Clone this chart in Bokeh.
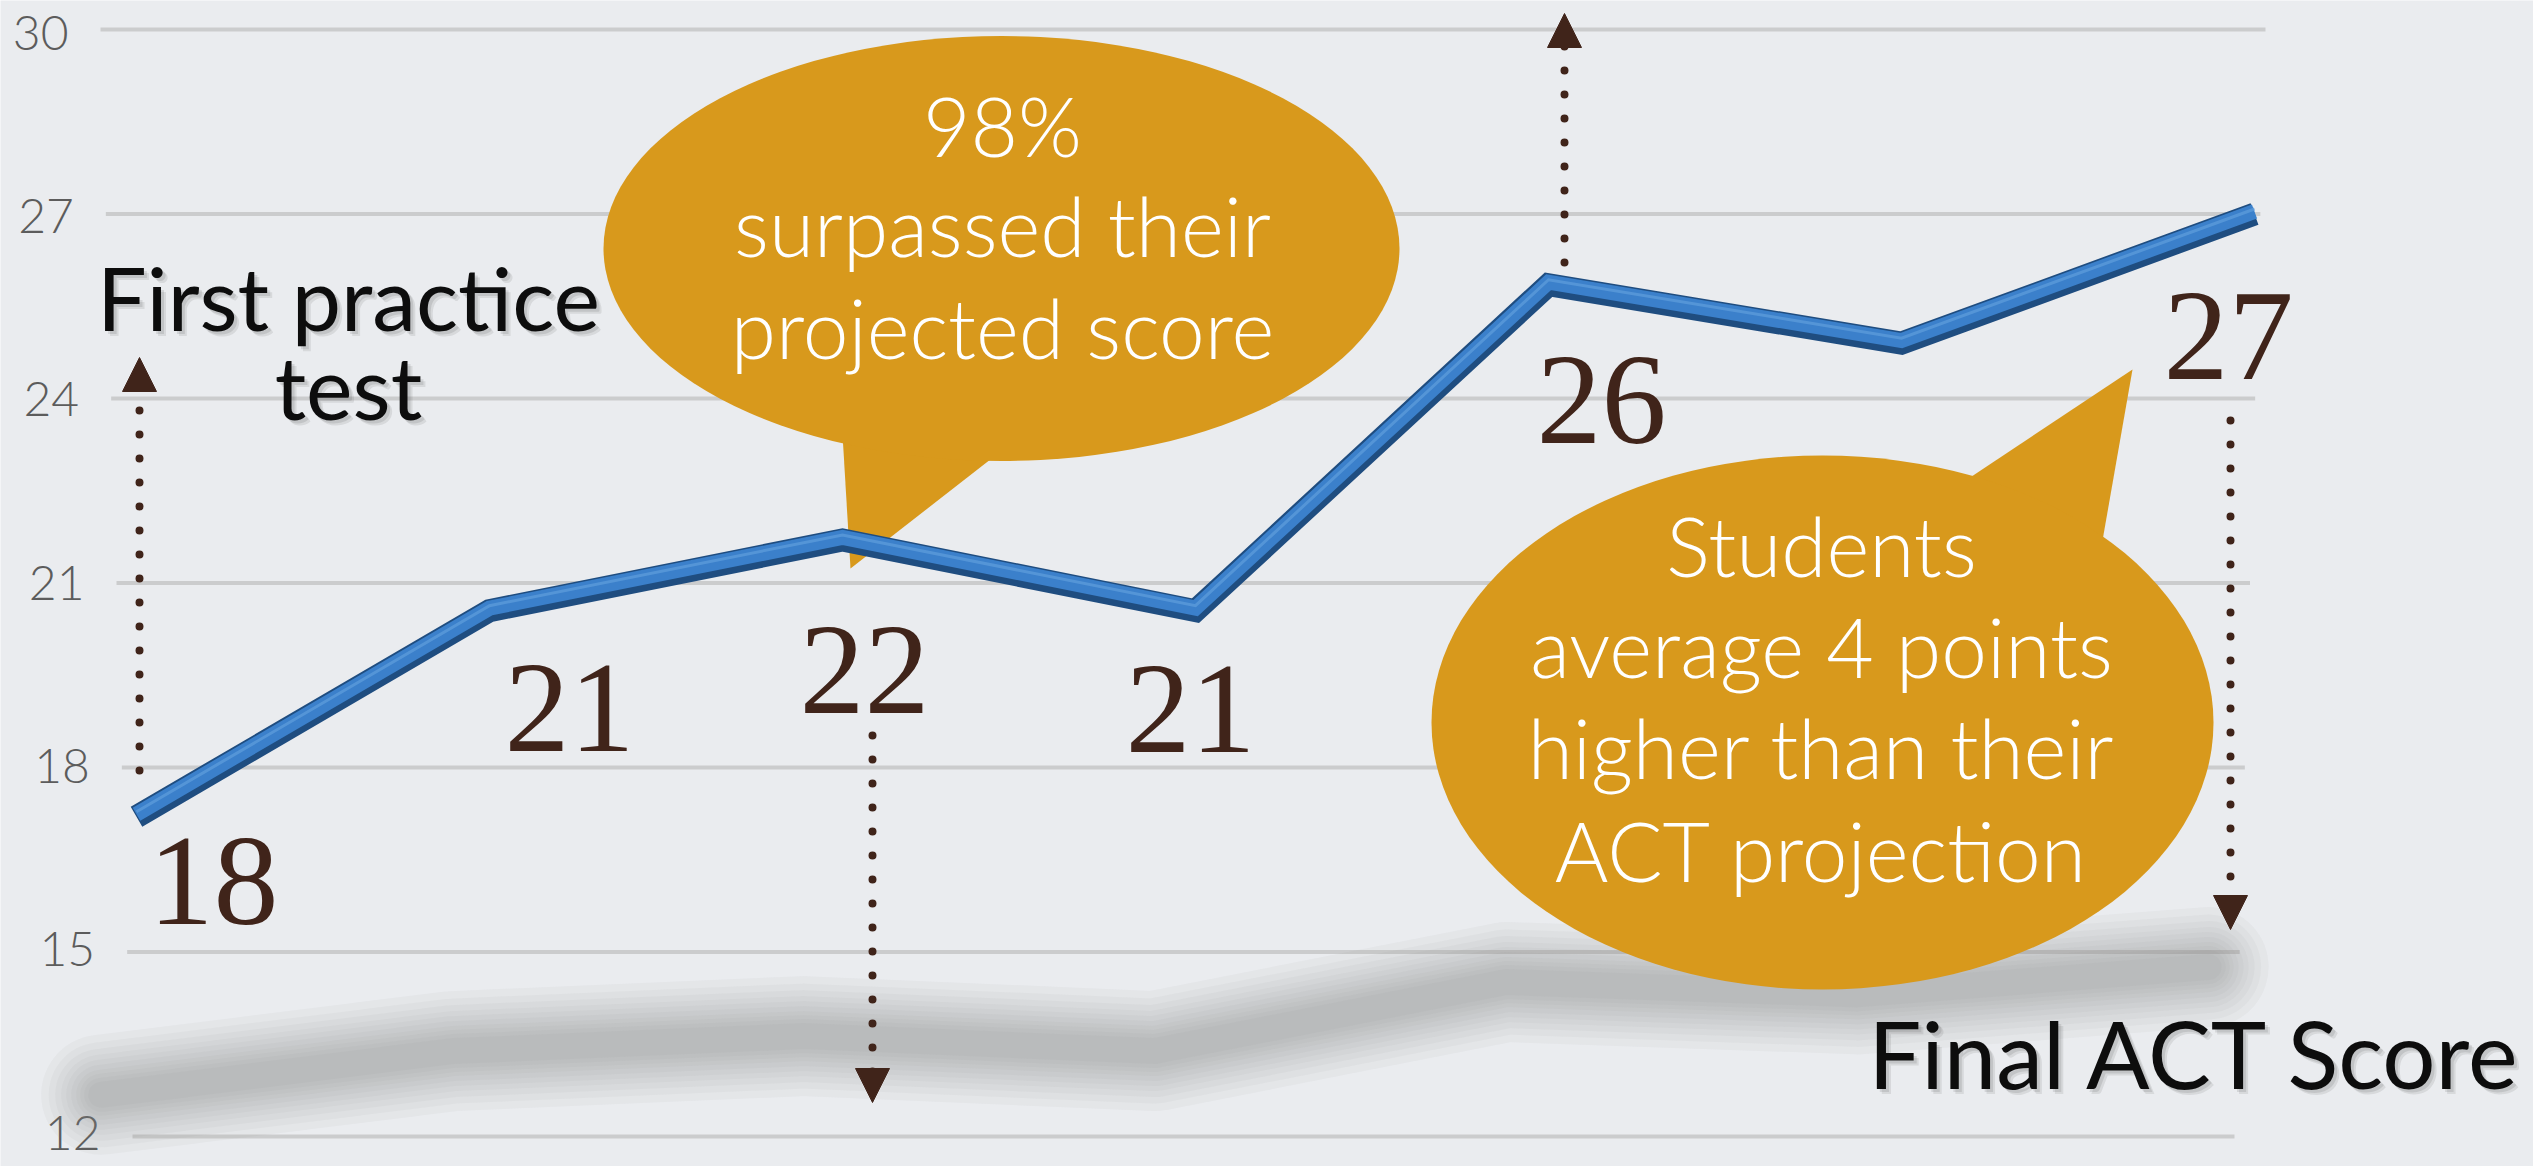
from bokeh.plotting import figure
from bokeh.models import Range1d, ColumnDataSource, Arrow, NormalHead
from bokeh.core.properties import value
from bokeh.embed import file_html
from bokeh.resources import INLINE

# ---------------- data ----------------
steps = [0, 1, 2, 3, 4, 5, 6]
scores_line = [17.2, 20.55, 21.7, 20.55, 25.85, 24.9, 27.0]
label_idx = [0, 1, 2, 3, 4, 6]
label_text = ["18", "21", "22", "21", "26", "27"]
y_ticks = [12, 15, 18, 21, 24, 27, 30]
y_tick_labels = ["12", "15", "18", "21", "24", "27", "30"]
bubble1_lines = ["98%", "surpassed their", "projected score"]
bubble2_lines = ["Students", "average 4 points", "higher than their", "ACT projection"]
first_label = ["First practice", "test"]
final_label = "Final ACT Score"

# ---------------- layout helpers (pixel <-> data) ----------------
W, H = 2533, 1166
X0PX, XS = 136.0, 353.0      # px of step 0, px per step
Y30PX, YS = 29.0, 61.5       # px of score 30, px per score point


def dx(px):
    return (px - X0PX) / XS


def dy(py):
    return 30 - (py - Y30PX) / YS


BG = "#eaecef"
GOLD = "#d8991c"
BROWN = "#40241a"
GRID = "#cbcccd"
LATO_SHIFT = 0.38   # empirical baseline correction (fraction of font size)

p = figure(width=W, height=H, x_range=Range1d(dx(0), dx(W)), y_range=Range1d(dy(H), dy(0)),
           x_axis_location=None, y_axis_location=None, toolbar_location=None,
           output_backend="svg", min_border=0)
p.background_fill_color = BG
p.border_fill_color = BG
p.outline_line_color = None
p.xgrid.visible = False
p.ygrid.visible = False

# ---------------- gridlines & tick labels (slight perspective skew) ----------------
gx0 = [dx(100 + (30 - t) / 18 * 32) for t in y_ticks]
gx1 = [dx(2265 - (30 - t) / 18 * 31) for t in y_ticks]
p.segment(x0=gx0, y0=y_ticks, x1=gx1, y1=y_ticks, line_color=GRID, line_width=4)
tick_src = ColumnDataSource(dict(
    x=[dx(68 + (30 - t) / 18 * 32) for t in y_ticks], y=y_ticks, text=y_tick_labels,
    yo=[3 - (30 - t) / 18 * 7 for t in y_ticks]))
p.text(x="x", y="y", text="text", y_offset="yo", source=tick_src, text_align="right",
       text_baseline="middle", text_font=value("Lato Light"), text_font_size="48px",
       text_color="#5c5c5c")

# ---------------- floor shadow of the line ----------------
shadow_x = [-0.1 + s * 0.995 for s in steps]
shadow_y = [12 + 0.212 * (v - 14.0) for v in scores_line]
for w in [120, 105, 92, 80, 70, 60, 50, 42, 34, 26]:
    p.line(shadow_x, shadow_y, line_color="#828282", line_alpha=0.06, line_width=w,
           line_join="round", line_cap="round")

# ---------------- speech bubbles ----------------
# bubble 1
p.patch([dx(840), dx(850), dx(995), dx(850)], [dy(400), dy(568), dy(455), dy(400)],
        fill_color=GOLD, line_color=None)
p.ellipse(x=[dx(1001)], y=[dy(248)], width=[796 / XS], height=[425 / YS],
          fill_color=GOLD, line_color=None)
# bubble 2
p.patch([dx(1935), dx(2132), dx(2095), dx(1960)], [dy(500), dy(369), dy(580), dy(560)],
        fill_color=GOLD, line_color=None)
p.ellipse(x=[dx(1822)], y=[dy(722)], width=[782 / XS], height=[534 / YS],
          fill_color=GOLD, line_color=None)

bfs = 82
b1_y = [dy(b - LATO_SHIFT * bfs) for b in (156, 256, 358)]
p.text(x=[dx(1002)] * 3, y=b1_y, text=bubble1_lines, text_align="center",
       text_baseline="alphabetic", text_font=value("Lato Light"), text_font_size=f"{bfs}px",
       text_color="white")
b2_y = [dy(b - LATO_SHIFT * bfs) for b in (576, 677, 778, 881)]
p.text(x=[dx(1821)] * 4, y=b2_y, text=bubble2_lines, text_align="center",
       text_baseline="alphabetic", text_font=value("Lato Light"), text_font_size=f"{bfs}px",
       text_color="white")

# ---------------- the score line (ribbon look) ----------------
p.line(steps, scores_line, line_color="#1f4d80", line_width=23, line_join="miter")
p.line(steps, [v + 2.5 / YS for v in scores_line], line_color="#3b80cb", line_width=15,
       line_join="miter")
p.line(steps, [v + 5 / YS for v in scores_line], line_color="#5b9ad9", line_width=3,
       line_join="miter", line_alpha=0.8)

# ---------------- value labels ----------------
lab_dx = [77, 80, 22, -5, 53, -26]
lab_dy = [65, 98, 131, 99, 116, 122]
lsrc = ColumnDataSource(dict(x=[steps[i] for i in label_idx],
                             y=[scores_line[i] for i in label_idx],
                             text=label_text, xo=lab_dx, yo=lab_dy))
p.text(x="x", y="y", text="text", x_offset="xo", y_offset="yo", source=lsrc,
       text_align="center", text_baseline="alphabetic",
       text_font=value("Liberation Serif"), text_font_size="130px", text_color=BROWN)

# ---------------- dotted arrows ----------------
arrows = [((139, 770), (139, 357)), ((872, 735), (872, 1102)),
          ((1564, 262), (1564, 13)), ((2230, 420), (2230, 929))]
for (xs_, ys_), (xe_, ye_) in arrows:
    p.add_layout(Arrow(end=NormalHead(size=34, fill_color=BROWN, line_color=BROWN, line_width=1),
                       x_start=dx(xs_), y_start=dy(ys_), x_end=dx(xe_), y_end=dy(ye_),
                       line_color=BROWN, line_width=8, line_dash="0 24", line_cap="round"))

# ---------------- captions ----------------
ffs, gfs = 88, 94
fy = [dy(330 - LATO_SHIFT * ffs), dy(419 - LATO_SHIFT * ffs)]
gy = dy(1088 - LATO_SHIFT * gfs)
for off, a in [(5, 0.10), (3, 0.12)]:
    p.text(x=[dx(348 + off), dx(348 + off)], y=[v - off / YS for v in fy], text=first_label,
           text_align="center", text_baseline="alphabetic", text_font=value("Lato"),
           text_font_size=f"{ffs}px", text_color="#333333", text_alpha=a)
    p.text(x=[dx(2523 + off)], y=[gy - off / YS], text=[final_label], text_align="right",
           text_baseline="alphabetic", text_font=value("Lato"), text_font_size=f"{gfs}px",
           text_color="#333333", text_alpha=a)
p.text(x=[dx(348), dx(348)], y=fy, text=first_label, text_align="center",
       text_baseline="alphabetic", text_font=value("Lato"), text_font_size=f"{ffs}px",
       text_color="#0d0d0d")
p.text(x=[dx(2523)], y=[gy], text=[final_label], text_align="right",
       text_baseline="alphabetic", text_font=value("Lato"), text_font_size=f"{gfs}px",
       text_color="#0d0d0d")

open("out.html", "w").write(file_html(p, INLINE))
